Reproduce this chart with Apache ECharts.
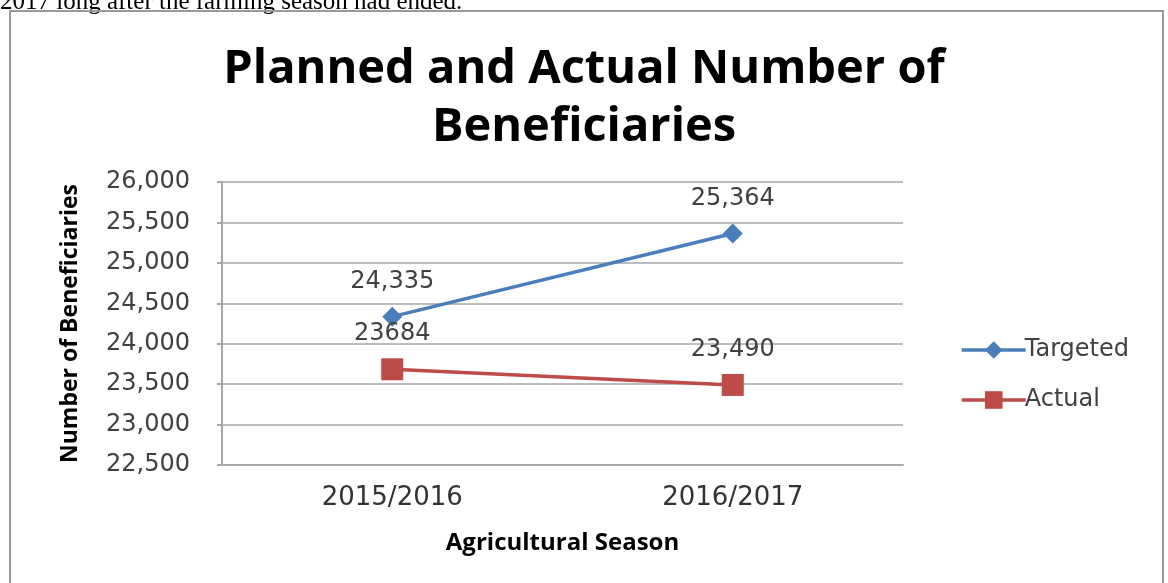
<!DOCTYPE html>
<html>
<head>
<meta charset="utf-8">
<script src="https://cdn.jsdelivr.net/npm/echarts@6/dist/echarts.min.js"></script>
<style>
  html, body { margin: 0; padding: 0; background: #fff; }
  #chart { width: 1168px; height: 583px; }
</style>
</head>
<body>
<div id="chart"></div>
<script>
// 数据
var seasons = ['2015/2016', '2016/2017'];
var targeted = [24335, 25364];
var actual = [23684, 23490];
var targetedLabels = ['24,335', '25,364'];
var actualLabels = ['23684', '23,490'];
var yTicks = [22500, 23000, 23500, 24000, 24500, 25000, 25500, 26000];

var blue = '#4a7ebb';
var red = '#be4b48';
var labelFont = 'DejaVu Sans';

var myChart = echarts.init(document.getElementById('chart'));
myChart.setOption({
  animation: false,
  backgroundColor: '#fff',
  title: {
    text: 'Planned and Actual Number of\nBeneficiaries',
    left: 'center',
    top: 36,
    textStyle: {
      fontFamily: 'Open Sans',
      fontWeight: 'bold',
      fontSize: 47,
      lineHeight: 58,
      color: '#000'
    }
  },
  graphic: [
    {
      // text from the page above the chart, cut off at the top
      type: 'text',
      left: 0,
      top: -10,
      style: {
        text: '2017 long after the farming season had ended.',
        font: '25px "Liberation Serif"',
        fill: '#000'
      }
    },
    {
      type: 'rect',
      shape: { x: 10, y: 11, width: 1153, height: 590 },
      style: { fill: 'none', stroke: '#999', lineWidth: 2 }
    }
  ],
  legend: {
    orient: 'vertical',
    left: 955,
    top: 333,
    itemGap: 26,
    itemWidth: 64,
    itemHeight: 22,
    lineStyle: { width: 3.5 },
    textStyle: { fontFamily: labelFont, fontSize: 24, color: '#404040', padding: [0, 0, 0, -6] },
    data: ['Targeted', 'Actual']
  },
  grid: {
    left: 222,
    top: 182,
    right: 265,
    bottom: 118
  },
  xAxis: {
    type: 'category',
    data: seasons,
    name: 'Agricultural Season',
    nameLocation: 'middle',
    nameGap: 66,
    nameTextStyle: { fontFamily: 'Open Sans', fontWeight: 'bold', fontSize: 24, color: '#000' },
    axisLine: { lineStyle: { color: '#a8a8a8', width: 2 } },
    axisTick: { show: false },
    axisLabel: { fontFamily: labelFont, fontSize: 26, color: '#333', margin: 20 }
  },
  yAxis: {
    type: 'value',
    min: yTicks[0],
    max: yTicks[yTicks.length - 1],
    interval: 500,
    name: 'Number of Beneficiaries',
    nameLocation: 'middle',
    nameGap: 140,
    nameTextStyle: { fontFamily: 'Open Sans', fontWeight: 'bold', fontSize: 23, color: '#000' },
    axisLine: { show: true, lineStyle: { color: '#a8a8a8', width: 2 } },
    axisTick: { show: true, length: 5, lineStyle: { color: '#a8a8a8', width: 2 } },
    splitLine: { lineStyle: { color: '#bdbdbd', width: 2 } },
    axisLabel: {
      fontFamily: labelFont,
      fontSize: 24,
      color: '#404040',
      margin: 32,
      formatter: function (v) { return v.toLocaleString('en-US'); }
    }
  },
  series: [
    {
      name: 'Targeted',
      type: 'line',
      data: targeted,
      symbol: 'diamond',
      symbolSize: 20,
      itemStyle: { color: blue },
      lineStyle: { color: blue, width: 3.5 },
      label: {
        show: true,
        position: 'top',
        distance: 13,
        fontFamily: labelFont,
        fontSize: 24,
        color: '#404040',
        formatter: function (p) { return targetedLabels[p.dataIndex]; }
      }
    },
    {
      name: 'Actual',
      type: 'line',
      data: actual,
      symbol: 'rect',
      symbolSize: 22,
      itemStyle: { color: red },
      lineStyle: { color: red, width: 3.5 },
      label: {
        show: true,
        position: 'top',
        distance: 12,
        fontFamily: labelFont,
        fontSize: 24,
        color: '#404040',
        formatter: function (p) { return actualLabels[p.dataIndex]; }
      }
    }
  ]
});
</script>
</body>
</html>
